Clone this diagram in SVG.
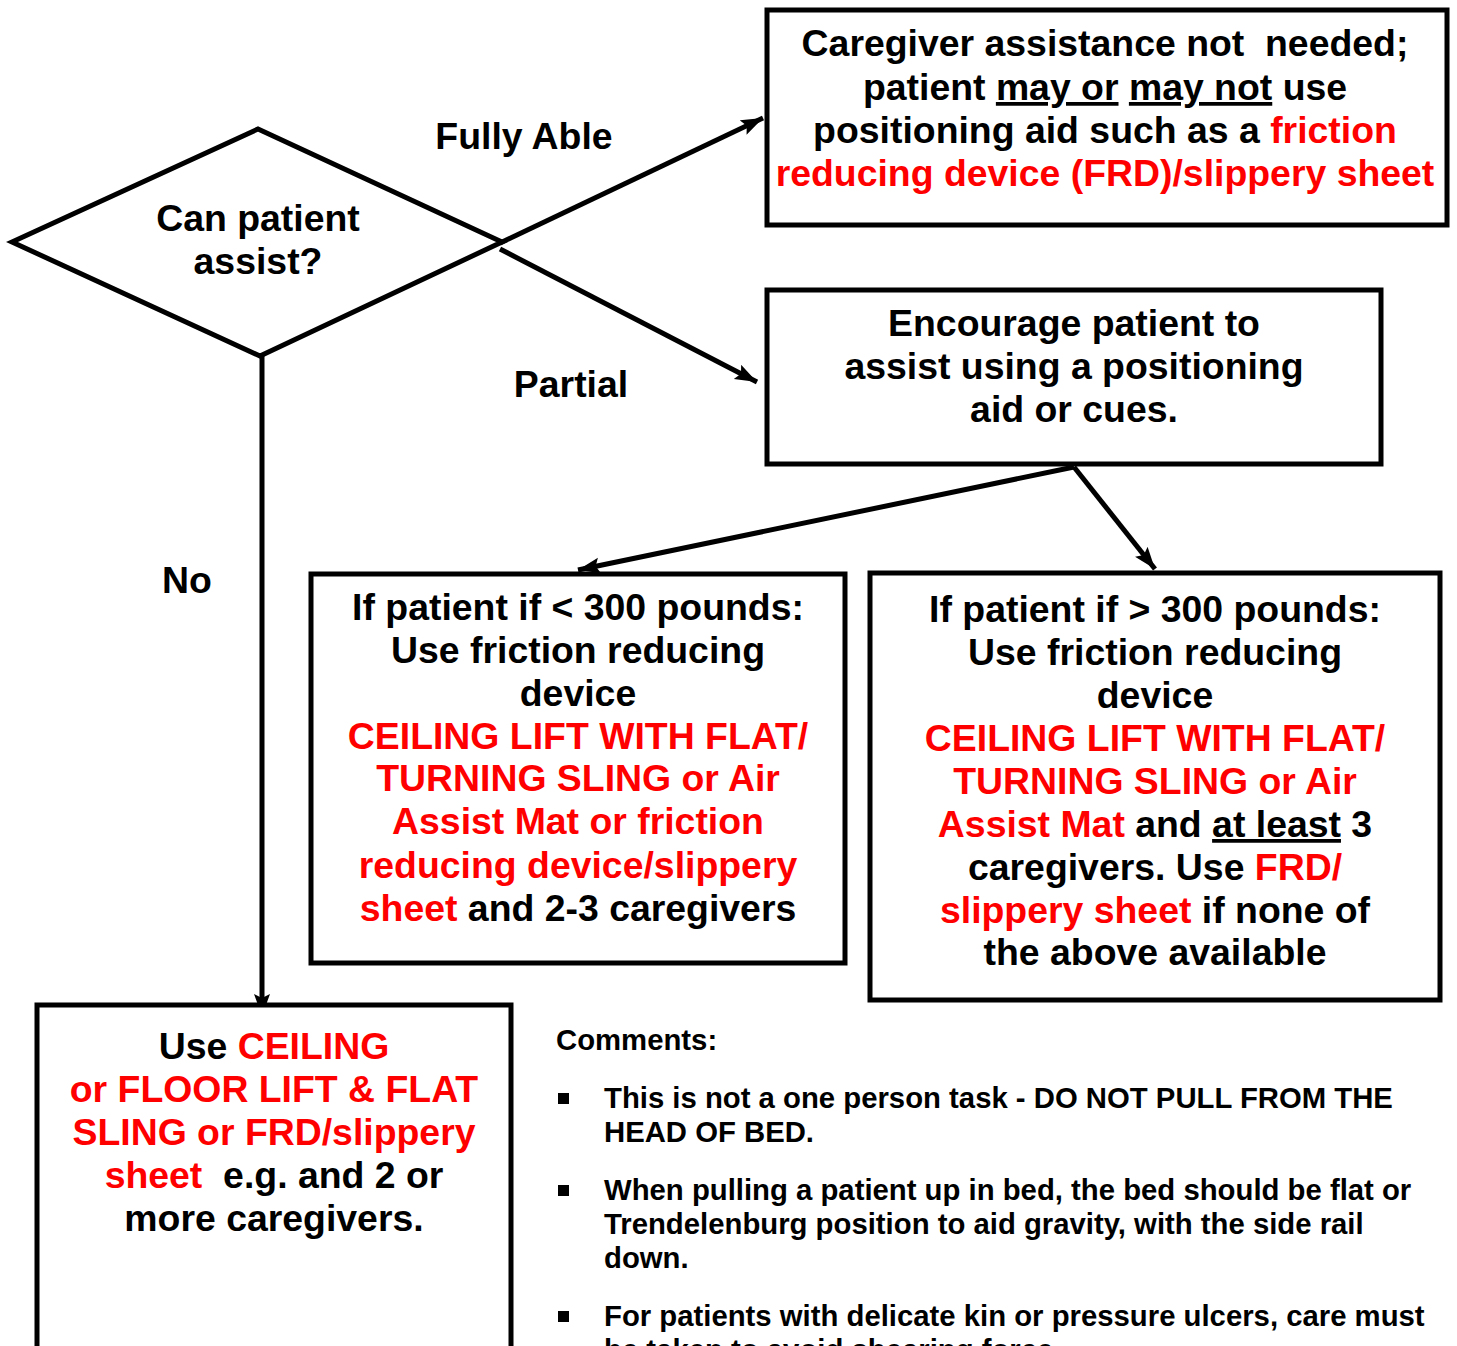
<svg xmlns="http://www.w3.org/2000/svg" width="1457" height="1346" viewBox="0 0 1457 1346">
<style>
.box{fill:#fff;stroke:#000;stroke-width:5}
.t{font-family:"Liberation Sans",Arial,sans-serif;font-weight:bold;font-size:37.4px;fill:#000;text-anchor:middle}
.c{font-family:"Liberation Sans",Arial,sans-serif;font-weight:bold;font-size:29.3px;fill:#000}
.r{fill:#ff0000}
.u{text-decoration:underline}
.conn{stroke:#000;stroke-width:5;fill:none}
</style>
<defs>
<marker id="ah" markerUnits="userSpaceOnUse" markerWidth="24" markerHeight="18" refX="22" refY="8" orient="auto">
<path d="M0,0 L22,8 L0,16 L4,8 z" fill="#000"/>
</marker>
</defs>
<rect width="1457" height="1346" fill="#fff"/>
<g id="connectors">
<line class="conn" x1="500" y1="243" x2="763" y2="118" marker-end="url(#ah)"/>
<line class="conn" x1="500" y1="249" x2="757" y2="382" marker-end="url(#ah)"/>
<line class="conn" x1="262" y1="356" x2="262" y2="1016" marker-end="url(#ah)"/>
<line class="conn" x1="1074" y1="467" x2="578" y2="570" marker-end="url(#ah)"/>
<line class="conn" x1="1074" y1="467" x2="1155" y2="569" marker-end="url(#ah)"/>
<text class="t" x="524" y="149">Fully Able</text>
<text class="t" x="571" y="397">Partial</text>
<text class="t" x="187" y="593">No</text>
</g>
<g id="decision">
<polygon class="box" style="fill:none" points="12,242 258,129 502,242 260,356"/>
<text class="t" x="258" y="231">Can patient</text>
<text class="t" x="258" y="274">assist?</text>
</g>
<g id="fully-able">
<rect class="box" x="767" y="10" width="680" height="215"/>
<text class="t" x="1105" y="56" xml:space="preserve">Caregiver assistance not  needed;</text>
<text class="t" x="1105" y="100">patient <tspan class="u">may or</tspan> <tspan class="u">may not</tspan> use</text>
<text class="t" x="1105" y="143">positioning aid such as a <tspan class="r">friction</tspan></text>
<text class="t r" x="1105" y="186">reducing device (FRD)/slippery sheet</text>
</g>
<g id="partial">
<rect class="box" x="767" y="290" width="614" height="174"/>
<text class="t" x="1074" y="336">Encourage patient to</text>
<text class="t" x="1074" y="379">assist using a positioning</text>
<text class="t" x="1074" y="422">aid or cues.</text>
</g>
<g id="under300">
<rect class="box" x="311" y="574" width="534" height="389"/>
<text class="t" x="578" y="620">If patient if &lt; 300 pounds:</text>
<text class="t" x="578" y="663">Use friction reducing</text>
<text class="t" x="578" y="706">device</text>
<text class="t r" x="578" y="749">CEILING LIFT WITH FLAT/</text>
<text class="t r" x="578" y="791">TURNING SLING or Air</text>
<text class="t r" x="578" y="834">Assist Mat or friction</text>
<text class="t r" x="578" y="878">reducing device/slippery</text>
<text class="t" x="578" y="921"><tspan class="r">sheet</tspan> and 2-3 caregivers</text>
</g>
<g id="over300">
<rect class="box" x="870" y="573" width="570" height="427"/>
<text class="t" x="1155" y="622">If patient if &gt; 300 pounds:</text>
<text class="t" x="1155" y="665">Use friction reducing</text>
<text class="t" x="1155" y="708">device</text>
<text class="t r" x="1155" y="751">CEILING LIFT WITH FLAT/</text>
<text class="t r" x="1155" y="794">TURNING SLING or Air</text>
<text class="t" x="1155" y="837"><tspan class="r">Assist Mat</tspan> and <tspan class="u">at least</tspan> 3</text>
<text class="t" x="1155" y="880">caregivers. Use <tspan class="r">FRD/</tspan></text>
<text class="t" x="1155" y="923"><tspan class="r">slippery sheet</tspan> if none of</text>
<text class="t" x="1155" y="965">the above available</text>
</g>
<g id="no-assist">
<rect class="box" x="37" y="1005" width="474" height="400"/>
<text class="t" x="274" y="1059">Use <tspan class="r">CEILING</tspan></text>
<text class="t r" x="274" y="1102">or FLOOR LIFT &amp; FLAT</text>
<text class="t r" x="274" y="1145">SLING or FRD/slippery</text>
<text class="t" x="274" y="1188" xml:space="preserve"><tspan class="r">sheet</tspan>  e.g. and 2 or</text>
<text class="t" x="274" y="1231">more caregivers.</text>
</g>
<g id="comments">
<text class="c" x="556" y="1050">Comments:</text>
<rect x="558" y="1093" width="11" height="11" fill="#000"/>
<text class="c" x="604" y="1108">This is not a one person task - DO NOT PULL FROM THE</text>
<text class="c" x="604" y="1142">HEAD OF BED.</text>
<rect x="558" y="1185" width="11" height="11" fill="#000"/>
<text class="c" x="604" y="1200">When pulling a patient up in bed, the bed should be flat or</text>
<text class="c" x="604" y="1234">Trendelenburg position to aid gravity, with the side rail</text>
<text class="c" x="604" y="1268">down.</text>
<rect x="558" y="1311" width="11" height="11" fill="#000"/>
<text class="c" x="604" y="1326">For patients with delicate kin or pressure ulcers, care must</text>
<text class="c" x="604" y="1360">be taken to avoid shearing force.</text>
</g>
</svg>
